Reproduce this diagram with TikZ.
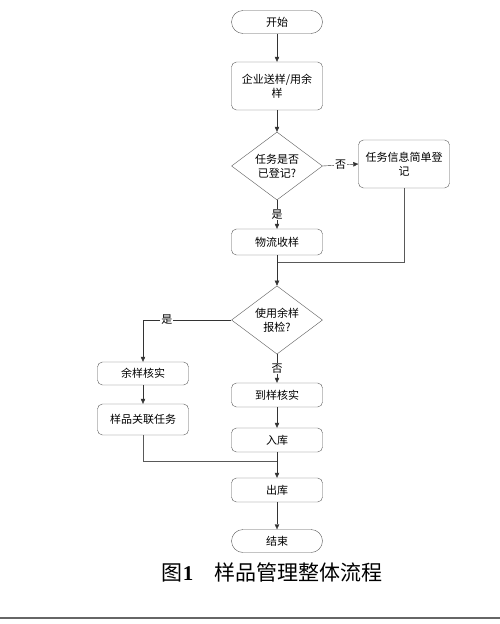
\documentclass[tikz,border=0pt]{standalone}
\usepackage{fontspec}
\newfontfamily\cjk{Noto Sans CJK SC}
\newfontfamily\numfont{Liberation Serif}
\usetikzlibrary{positioning}
\usetikzlibrary{shapes.geometric}
\usetikzlibrary{arrows.meta}

\begin{document}
\begin{tikzpicture}[x=1pt, y=-1pt,
    every node/.style={font=\cjk\fontsize{11}{14}\selectfont},
    procbox/.style={draw=black!65, rounded corners=5pt, minimum width=91pt, align=center, inner sep=2pt},
    termbox/.style={draw=black!65, rounded corners=11.5pt, minimum width=91pt, minimum height=23pt},
    decide/.style={draw=black!65, diamond, minimum width=91pt, minimum height=66pt, inner sep=0pt, align=center},
    flow/.style={draw=black!80, -{Triangle[length=5pt,width=4.5pt]}},
    link/.style={draw=black!65},
    yn/.style={fill=white, inner sep=1pt}]
    \useasboundingbox (0,0) rectangle (500,624);

    % Main column
    \node[termbox] (start) at (277,22) {开始};
    \node[procbox, minimum height=48pt] (send) at (277,86) {企业送样/用余\\样};
    \node[decide] (chk) at (277,166) {任务是否\\已登记?};
    \node[procbox, minimum height=48pt] (reg) at (404,164) {任务信息简单登\\记};
    \node[procbox, minimum height=26pt] (recv) at (277,242) {物流收样};
    \node[decide] (use) at (277,320) {使用余样\\报检?};
    \node[procbox, minimum height=24pt] (check) at (277,395) {到样核实};
    \node[procbox, minimum height=24pt] (store) at (277,440) {入库};
    \node[procbox, minimum height=24pt] (out) at (277,490) {出库};
    \node[termbox] (finish) at (277,541) {结束};

    % Left branch
    \node[procbox, minimum height=23pt] (rest) at (143,373.5) {余样核实};
    \node[procbox, minimum height=31pt] (bind) at (143,419.5) {样品关联任务};

    % Join points
    \coordinate (j1) at (277,262);
    \coordinate (j2) at (277,461);

    % Connectors
    \draw[flow] (start) -- (send);
    \draw[flow] (send) -- (chk);
    \draw[flow] (chk.east) -- node[yn] {否} (reg.west);
    \draw[flow] (chk.south) -- node[yn] {是} (recv.north);
    \draw[link] (reg.south) |- (j1);
    \draw[flow] (recv) -- (use);
    \draw[flow] (use.west) -| node[yn, pos=0.365] {是} (rest.north);
    \draw[flow] (use.south) -- node[yn] {否} (check.north);
    \draw[flow] (rest) -- (bind);
    \draw[flow] (check) -- (store);
    \draw[link] (bind.south) |- (j2);
    \draw[flow] (store) -- (out);
    \draw[flow] (out) -- (finish);

    % Caption
    \node[font=\cjk\fontsize{21}{24}\selectfont] (caption) at (272,572) {图{\numfont\bfseries 1}\quad 样品管理整体流程};
    \draw[black!60, line width=1.2pt] (0,618) -- (500,618);
\end{tikzpicture}
\end{document}
